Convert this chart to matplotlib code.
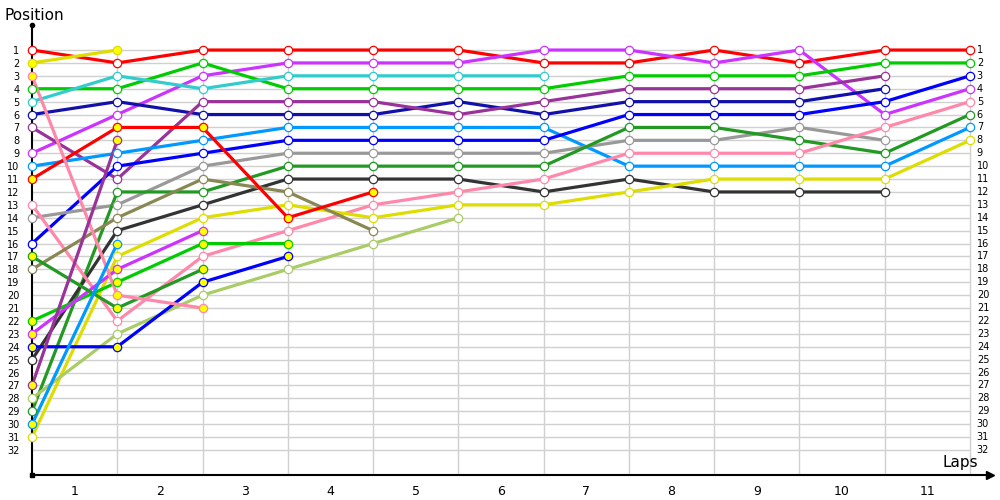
import matplotlib
matplotlib.use("Agg")
import matplotlib.pyplot as plt

# positions per lap column (column 0 = grid, then after each lap)
red_a = [1, 2, 1, 1, 1, 1, 2, 2, 1, 2, 1, 1]
violet_a = [9, 6, 3, 2, 2, 2, 1, 1, 2, 1, 6, 4]
green_a = [4, 4, 2, 4, 4, 4, 4, 3, 3, 3, 2, 2]
cyan_a = [5, 3, 4, 3, 3, 3, 3]
navy_a = [6, 5, 6, 6, 6, 5, 6, 5, 5, 5, 4]
purple_a = [7, 11, 5, 5, 5, 6, 5, 4, 4, 4, 3]
lblue_a = [10, 9, 8, 7, 7, 7, 7, 10, 10, 10, 10, 7]
blue_a = [16, 10, 9, 8, 8, 8, 8, 6, 6, 6, 5, 3]
gray_a = [14, 13, 10, 9, 9, 9, 9, 8, 8, 7, 8]
dkgreen_a = [29, 12, 12, 10, 10, 10, 10, 7, 7, 8, 9, 6]
black_a = [25, 15, 13, 11, 11, 11, 12, 11, 12, 12, 12]
pink_a = [13, 22, 17, 15, 13, 12, 11, 9, 9, 9, 7, 5]
yellow_a = [31, 17, 14, 13, 14, 13, 13, 12, 11, 11, 11, 8]
lgreen_a = [28, 23, 20, 18, 16, 14]
olive_a = [18, 14, 11, 12, 15]
red_b = [11, 7, 7, 14, 12]
green_b = [22, 19, 16, 16]
blue_b = [24, 24, 19, 17]
violet_b = [23, 18, 15]
dkgreen_b = [17, 21, 18]
pink_b = [3, 20, 21]
purple_b = [27, 8]
lblue_b = [30, 16]
yellow_b = [2, 1]

lap_labels = [str(i) for i in range(1, 12)]
n_pos = 32

RED, YELLOW, PINK, GREEN = "#ff0000", "#dddd00", "#ff88aa", "#00cc00"
CYAN, NAVY, PURPLE, VIOLET = "#33cccc", "#1111aa", "#993399", "#cc33ff"
LBLUE, GRAY, BLUE, DKGREEN = "#0099ff", "#999999", "#0000ff", "#229922"
OLIVE, BLACK, LGREEN = "#888855", "#333333", "#aacc66"

series = [
    (red_a, RED, False), (violet_a, VIOLET, False), (green_a, GREEN, False),
    (cyan_a, CYAN, False), (navy_a, NAVY, False), (purple_a, PURPLE, False),
    (lblue_a, LBLUE, False), (blue_a, BLUE, False), (gray_a, GRAY, False),
    (dkgreen_a, DKGREEN, False), (black_a, BLACK, False), (pink_a, PINK, False),
    (yellow_a, YELLOW, False), (lgreen_a, LGREEN, False), (olive_a, OLIVE, False),
    (red_b, RED, True), (green_b, GREEN, True), (blue_b, BLUE, True),
    (violet_b, VIOLET, True), (dkgreen_b, DKGREEN, True), (pink_b, PINK, True),
    (purple_b, PURPLE, True), (lblue_b, LBLUE, True), (yellow_b, YELLOW, True),
]

n_cols = len(lap_labels)
x_max = n_cols + 0.235
y_bottom = n_pos + 1.94
y_top = -0.94

fig = plt.figure(figsize=(10, 5), dpi=100)
ax = fig.add_axes([0.032, 0.05, 0.958, 0.90])
ax.set_xlim(0, x_max)
ax.set_ylim(y_bottom, y_top)

# grid
ax.hlines(range(1, n_pos + 1), 0, n_cols, colors="#d0d0d0", lw=1, zorder=0)
ax.vlines(range(1, n_cols + 1), 1, y_bottom, colors="#d0d0d0", lw=1, zorder=0)

for vals, col, filled in series:
    xs = list(range(len(vals)))
    ax.plot(xs, vals, color=col, lw=2.3, zorder=2, solid_capstyle="butt")
for vals, col, filled in series:
    xs = list(range(len(vals)))
    ax.plot(xs, vals, ls="none", marker="o", ms=6, mew=0.9, mec=col,
            mfc="#ffff00" if filled else "white", zorder=3, clip_on=False)

for s in ["top", "right"]:
    ax.spines[s].set_visible(False)
for s in ["left", "bottom"]:
    ax.spines[s].set_linewidth(1.5)
    ax.spines[s].set_color("black")

ax.set_yticks(range(1, n_pos + 1))
ax.set_yticklabels([str(i) for i in range(1, n_pos + 1)], fontsize=7)
ax.tick_params(axis="y", length=0, pad=9)
for p in range(1, n_pos + 1):
    ax.text(n_cols + 0.08, p, str(p), fontsize=7, va="center", ha="left")

ax.set_xticks([i + 0.5 for i in range(n_cols)])
ax.set_xticklabels(lap_labels, fontsize=9)
ax.tick_params(axis="x", length=0, pad=7)

# axis ends
ax.plot([1], [0], marker=">", color="black", ms=6, transform=ax.transAxes, clip_on=False)
ax.plot([0], [1], marker="o", color="black", ms=3, transform=ax.transAxes, clip_on=False)
ax.plot([0], [0], marker="s", color="black", ms=3, transform=ax.transAxes, clip_on=False)

fig.text(0.004, 0.968, "Position", fontsize=11, va="center", ha="left")
fig.text(0.943, 0.074, "Laps", fontsize=11, va="center", ha="left")

fig.savefig("out.png", dpi=100)
